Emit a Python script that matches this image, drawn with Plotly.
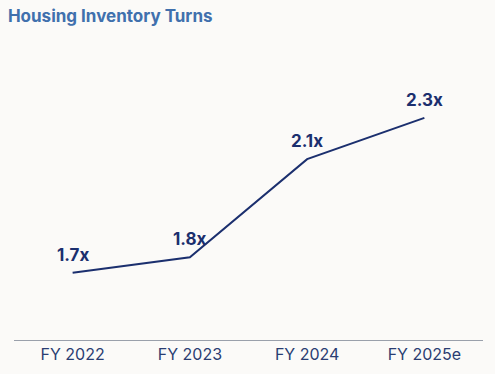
import plotly.graph_objects as go

categories = ["FY 2022", "FY 2023", "FY 2024", "FY 2025e"]
turns = [1.70, 1.76, 2.14, 2.30]
labels = ["1.7x", "1.8x", "2.1x", "2.3x"]

navy = "#1b2f6e"
bg = "#fbfaf8"

fig = go.Figure()
fig.add_trace(go.Scatter(
    x=categories, y=turns, mode="lines",
    line=dict(color=navy, width=2),
    hoverinfo="skip",
))

for c, v, t in zip(categories, turns, labels):
    fig.add_annotation(x=c, y=v, text=f"<b>{t}</b>", showarrow=False,
                       yanchor="middle", xanchor="center", yshift=18,
                       font=dict(family="Inter", size=17, color=navy))

fig.update_layout(
    width=495, height=374,
    margin=dict(l=14, r=12, t=30, b=34, autoexpand=False),
    paper_bgcolor=bg, plot_bgcolor=bg,
    showlegend=False,
    title=dict(text="<b>Housing Inventory Turns</b>", x=0.016, xanchor="left",
               y=0.958, yanchor="middle", pad=dict(l=0, r=0, t=0, b=0),
               font=dict(family="Inter", size=17, color="#4070ad")),
    xaxis=dict(type="category", range=[-0.5, 3.5], showgrid=False, zeroline=False,
               showline=True, linecolor="#9aa0ab", linewidth=1, ticks="",
               tickfont=dict(family="Inter", size=16, color="#2a3d72")),
    yaxis=dict(range=[1.44, 2.64], visible=False, showgrid=False, zeroline=False),
)

fig.write_html("out.html", config={"displayModeBar": False},
               post_script="document.body.style.margin='0';document.body.style.background='%s';" % bg)
